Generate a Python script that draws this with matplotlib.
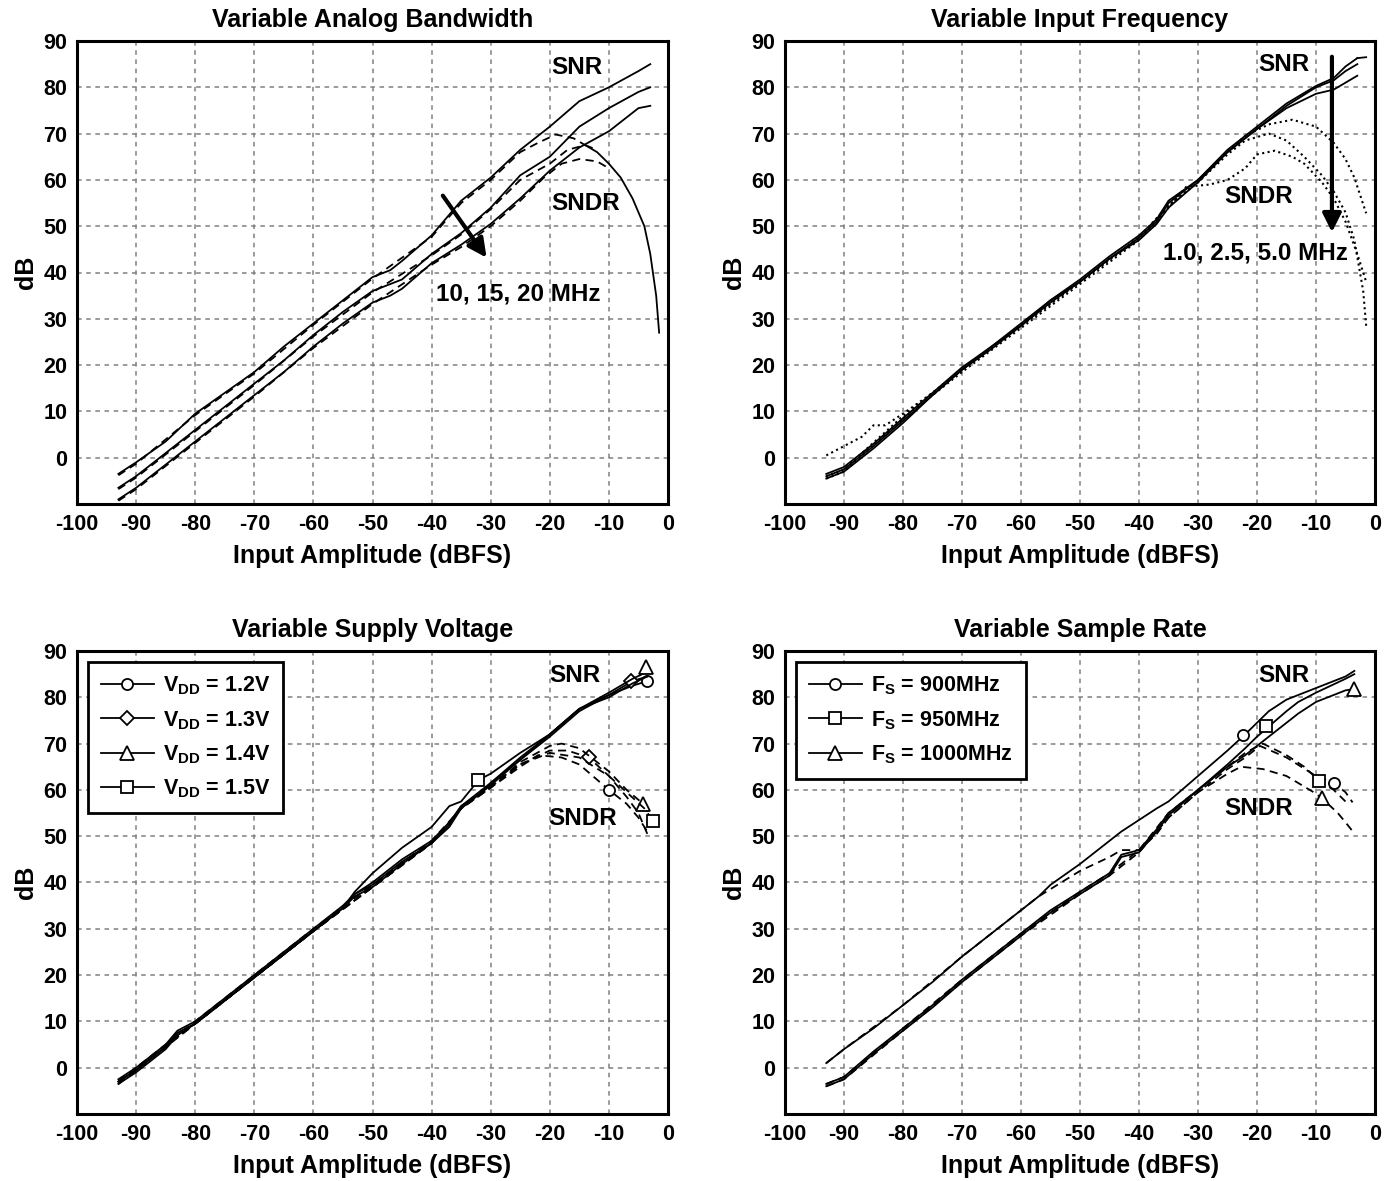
import matplotlib.pyplot as plt
from matplotlib.lines import Line2D

plt.rcParams["font.family"] = ["Liberation Sans", "DejaVu Sans"]
plt.rcParams["font.weight"] = "bold"
plt.rcParams["axes.unicode_minus"] = False
plt.rcParams["mathtext.fontset"] = "custom"
plt.rcParams["mathtext.rm"] = "Liberation Sans:bold"
plt.rcParams["mathtext.bf"] = "Liberation Sans:bold"
plt.rcParams["mathtext.default"] = "rm"

# ---- Variable Analog Bandwidth ----
bw_x = [-93, -90, -85, -80, -75, -70, -65, -60, -55, -50, -47, -45, -40, -35, -30, -25, -20, -15, -10, -5, -3]
snr_10mhz = [-3.5, -1, 3.5, 9.5, 14, 18.5, 24, 29, 34, 39, 40.5, 42.5, 48, 55.5, 60.5, 66.5, 71.5, 77, 80, 83.5, 85]
snr_15mhz = [-6.5, -4, 1, 6, 11, 16, 21, 26.5, 31.5, 36, 37.5, 38.5, 44, 48.5, 54, 61, 65, 71.5, 75.5, 79, 80]
snr_20mhz = [-9, -6.5, -1.5, 3.5, 8.5, 13.5, 18.5, 24, 29, 33.5, 35, 36.5, 42, 46, 50.5, 56, 62, 67, 70.5, 75.5, 76]
sndr_10mhz_x = [-93, -90, -80, -70, -60, -50, -40, -35, -30, -25, -22, -19, -16, -14]
sndr_10mhz = [-3.8, -1.3, 9.2, 18.2, 28.7, 38.7, 47.7, 55, 60, 66, 68, 69.8, 69, 67.5]
sndr_15mhz_x = [-93, -90, -80, -70, -60, -50, -40, -35, -30, -25, -20, -17, -14, -12]
sndr_15mhz = [-6.8, -4.3, 5.7, 15.7, 26.2, 35.7, 43.7, 48.2, 53.7, 60, 63.5, 66.5, 67.5, 66.5]
sndr_20mhz_x = [-93, -90, -80, -70, -60, -50, -40, -35, -30, -25, -21, -18, -15, -12, -10]
sndr_20mhz = [-9.3, -6.8, 3.2, 13.2, 23.7, 33.2, 41.7, 45.5, 50, 55.5, 60.5, 63.5, 64.5, 64, 62.5]
sndr_drop_x = [-14, -12, -10, -8, -6, -4, -3, -2, -1.5]
sndr_drop = [67.5, 66, 63.5, 60.5, 56, 50, 44, 35, 27]

# ---- Variable Input Frequency ----
if_x = [-93, -90, -87, -85, -80, -75, -70, -65, -60, -55, -50, -45, -40, -37, -35, -30, -25, -20, -15, -10, -7, -5, -3]
snr_1mhz = [-3.5, -2, 1, 3, 8.5, 14, 19.5, 24, 29, 34, 38.5, 43.5, 48, 51.5, 55.5, 60, 66.5, 71.5, 76.5, 80.3, 82, 84.5, 86.3]
snr_2mhz = [-4, -2.5, 0.5, 2.5, 8, 13.5, 19, 24, 28.5, 34, 38, 43, 47.5, 51, 55, 60, 66, 71, 76, 80, 81.5, 83.5, 85]
snr_5mhz = [-4.5, -3, 0, 2, 7.5, 13.5, 19, 23.5, 28.5, 33.5, 38, 43, 47, 50.5, 54, 59.5, 66, 71, 75.5, 78.6, 79.5, 81, 82.5]
snr_1mhz_tail_x = [-3, -1.5]
snr_1mhz_tail = [86.3, 86.5]
sndr_1mhz_x = [-93, -90, -87, -85, -83, -80, -75, -70, -60, -50, -40, -35, -30, -25, -22, -18, -14, -10, -7, -5, -3.5, -1.5]
sndr_1mhz = [0.5, 2.5, 4.5, 7, 7, 9.5, 14, 19, 28.5, 38, 47.5, 54.5, 59.5, 66, 69.5, 72, 73, 71.5, 68, 64.5, 60.5, 52.8]
sndr_2mhz_x = [-93, -90, -80, -70, -60, -50, -40, -35, -30, -25, -22, -18, -15, -12, -9, -7, -5, -3.5, -2, -1.5]
sndr_2mhz = [-4, -2.5, 9, 19, 28.5, 38, 47.5, 54.5, 59.5, 65.5, 68.5, 70, 68.5, 65, 61, 57.5, 53, 47, 36, 28.5]
sndr_5mhz_x = [-93, -90, -80, -70, -60, -50, -40, -35, -32, -28, -25, -22, -20, -17, -14, -12, -9, -7, -5, -3, -1.5]
sndr_5mhz = [-4.5, -3, 8.5, 18.5, 28, 37.5, 47, 54, 58.5, 59, 60, 62.5, 65.5, 66.3, 65, 63.5, 59.5, 56, 51, 44, 38]

# ---- Variable Supply Voltage ----
vdd_labels = ["V$_{DD}$ = 1.2V", "V$_{DD}$ = 1.3V", "V$_{DD}$ = 1.4V", "V$_{DD}$ = 1.5V"]
vdd_markers = ["o", "D", "^", "s"]
vdd_x = [-93, -90, -85, -83, -80, -75, -70, -65, -60, -55, -53, -50, -45, -40, -37, -35, -32, -30, -25, -20, -15, -10, -6, -3.5]
snr_vdd = [
    [-3, -0.5, 4.5, 7.5, 9.5, 14.5, 19.5, 24.5, 29.5, 34.5, 37, 39, 44, 48.5, 52.5, 56.5, 59, 61.5, 66.5, 72, 77.5, 80.5, 82.5, 83.5],
    [-3.5, -1, 4, 7, 9.5, 14.5, 19.5, 24.5, 29.5, 34.5, 37.5, 39.5, 44.5, 48.5, 52, 56, 59, 61, 66.5, 71.5, 77, 80.5, 83.5, 84.5],
    [-2.5, 0, 5, 8, 10, 15, 20, 25, 30, 35, 37.5, 40, 45, 49, 53, 56.5, 59.5, 61.5, 67, 72, 77.5, 81, 84, 85.5],
    [-3, -0.5, 4.5, 7.5, 9.5, 14.5, 19.5, 24.5, 29.5, 34.5, 38, 42, 47.5, 52, 56.5, 57.5, 62.2, 63.5, 68, 72, 77.5, 80, 83, 84.5],
]
snr_vdd_mark_x = [-3.6, -6.2, -3.8, -32.1]
snr_vdd_mark_y = [83.5, 83.5, 86.5, 62.2]
sndr_vdd_x = [
    [-93, -80, -70, -60, -50, -40, -35, -30, -25, -22, -18, -15, -10, -7, -5, -3.5],
    [-93, -80, -70, -60, -50, -40, -35, -30, -25, -20, -17, -13.4, -10, -7, -5, -3.5],
    [-93, -80, -70, -60, -50, -40, -35, -30, -25, -20, -18, -15, -10, -7, -4.2, -3],
    [-93, -80, -70, -60, -50, -40, -35, -30, -25, -20, -15, -10, -7, -4, -2.5],
]
sndr_vdd = [
    [-3.5, 9.5, 19.5, 29.5, 39, 48.5, 56, 60.5, 65, 67.5, 67, 65.5, 60, 57, 54, 51],
    [-3.5, 9.5, 19.5, 29.5, 39, 48.5, 56, 60.5, 65.5, 68.5, 68.5, 67, 63, 58.5, 55, 50.5],
    [-3, 10, 20, 30, 39.5, 49, 56, 60.5, 66, 69.5, 70, 69, 64, 60, 57, 54],
    [-3, 9.5, 19.5, 29.5, 39, 48.5, 56, 61, 65.5, 68, 67, 63, 59.5, 56, 53.3],
]
sndr_vdd_mark_x = [-10, -13.4, -4.2, -2.5]
sndr_vdd_mark_y = [60, 67, 57, 53.3]

# ---- Variable Sample Rate ----
fs_labels = ["F$_{S}$ = 900MHz", "F$_{S}$ = 950MHz", "F$_{S}$ = 1000MHz"]
fs_markers = ["o", "s", "^"]
fs_x = [-93, -90, -85, -80, -75, -70, -65, -60, -57, -55, -50, -45, -43, -40, -37, -35, -30, -25, -22, -20, -18, -15, -13, -10, -5, -3.5]
snr_fs = [
    [1, 4, 8.5, 13.5, 18.5, 24, 29, 34, 37, 39.5, 44, 49, 51, 53.5, 56, 57.5, 63, 68.5, 72, 74.5, 77, 79.5, 80.5, 82, 84.5, 85.7],
    [-3.5, -2, 3.5, 8.5, 13.5, 19, 24, 29, 32, 34, 38, 42, 46, 47, 51.5, 55, 60, 65.5, 69, 71.5, 73.7, 77, 79, 81, 84, 85],
    [-4, -2.5, 3, 8, 13, 18.5, 23.5, 28.5, 31.5, 33.5, 37.5, 41.5, 45.5, 46.5, 51, 54.5, 60, 65, 67.5, 69.5, 71.5, 74.5, 76.5, 79, 81.5, 81.8],
]
snr_fs_mark_x = [-22.3, -18.5, -3.6]
snr_fs_mark_y = [71.9, 73.7, 81.8]
sndr_fs_x = [
    [-93, -90, -80, -70, -60, -57, -50, -45, -43, -40, -37, -35, -30, -25, -22, -19.5, -15, -10, -7, -5, -3.8],
    [-93, -90, -80, -70, -60, -50, -45, -40, -35, -30, -25, -22, -19, -15, -12, -9.5, -7, -5],
    [-93, -90, -80, -70, -60, -50, -45, -40, -35, -30, -25, -22.7, -19, -15, -10.4, -9, -6.3, -5, -3.5],
]
sndr_fs = [
    [1, 4, 13.5, 24, 34, 37, 42.5, 45.5, 47, 47, 50.5, 54, 59.5, 64.5, 67, 69.5, 67, 63, 61.5, 59.5, 57.3],
    [-3.5, -2, 8.5, 19, 29, 38, 42, 47, 55, 60, 65, 68, 70, 67.5, 65, 62, 60, 57.5],
    [-4, -2.5, 8, 18.5, 28.5, 37.5, 41.5, 46.5, 54, 59.5, 63.5, 65, 64.5, 63, 59.5, 58.2, 55, 53, 50.6],
]
sndr_fs_mark_x = [-7, -9.5, -9]
sndr_fs_mark_y = [61.5, 62, 58.2]

x_ticks = list(range(-100, 1, 10))
y_ticks = list(range(0, 91, 10))

fig = plt.figure(figsize=(13.96, 11.81), dpi=100)
W, H = 1396, 1181


def make_axes(left, top, right, bottom, title):
    ax = fig.add_axes([left / W, 1 - bottom / H, (right - left) / W, (bottom - top) / H])
    ax.set_xlim(-100, 0)
    ax.set_ylim(-10, 90)
    ax.set_xticks(x_ticks)
    ax.set_yticks(y_ticks)
    ax.grid(True, linestyle=(0, (3, 3)), linewidth=1.1, color="0.5")
    ax.set_axisbelow(True)
    for s in ax.spines.values():
        s.set_linewidth(2.2)
    ax.tick_params(length=0, labelsize=15.5, pad=7)
    for lab in ax.get_xticklabels() + ax.get_yticklabels():
        lab.set_fontweight("bold")
    ax.set_title(title, fontsize=18, fontweight="bold", pad=10)
    ax.set_xlabel("Input Amplitude (dBFS)", fontsize=18, fontweight="bold", labelpad=7)
    ax.set_ylabel("dB", fontsize=18, fontweight="bold", labelpad=4)
    return ax


lw = 1.3
dash = (0, (4.5, 3))
txt = dict(fontsize=17.5, fontweight="bold", ha="center", va="center")
mk = dict(linestyle="none", markerfacecolor="white", markeredgecolor="black", markeredgewidth=1.3)
msize = {"o": 8, "D": 7, "^": 10, "s": 8.5}

# top-left
ax = make_axes(77, 41, 668, 504, "Variable Analog Bandwidth")
for y in [snr_10mhz, snr_15mhz, snr_20mhz]:
    ax.plot(bw_x, y, color="black", lw=lw)
for xs, ys in [(sndr_10mhz_x, sndr_10mhz), (sndr_15mhz_x, sndr_15mhz), (sndr_20mhz_x, sndr_20mhz)]:
    ax.plot(xs, ys, color="black", lw=lw, linestyle=dash)
ax.plot(sndr_drop_x, sndr_drop, color="black", lw=lw)
ax.text(-15.4, 84.3, "SNR", **txt)
ax.text(-14, 55, "SNDR", **txt)
ax.text(-25.4, 35.4, "10, 15, 20 MHz", **txt)
ax.annotate("", xy=(-30.7, 43.2), xytext=(-38.1, 56.6),
            arrowprops=dict(arrowstyle="-|>", lw=3, color="black", mutation_scale=28, shrinkA=0, shrinkB=0))

# top-right
ax = make_axes(785, 41, 1375, 504, "Variable Input Frequency")
for y in [snr_1mhz, snr_2mhz, snr_5mhz]:
    ax.plot(if_x, y, color="black", lw=lw)
ax.plot(snr_1mhz_tail_x, snr_1mhz_tail, color="black", lw=lw)
for xs, ys in [(sndr_1mhz_x, sndr_1mhz), (sndr_2mhz_x, sndr_2mhz), (sndr_5mhz_x, sndr_5mhz)]:
    ax.plot(xs, ys, color="black", lw=1.5, linestyle=":")
ax.text(-15.4, 85, "SNR", **txt)
ax.text(-19.7, 56.5, "SNDR", **txt)
ax.text(-20.2, 44.2, "1.0, 2.5, 5.0 MHz", **txt)
ax.annotate("", xy=(-7.3, 48.7), xytext=(-7.3, 86.6),
            arrowprops=dict(arrowstyle="-|>", lw=3, color="black", mutation_scale=28, shrinkA=0, shrinkB=0))

# bottom-left
ax = make_axes(77, 651, 668, 1114, "Variable Supply Voltage")
handles = []
for i in range(4):
    ax.plot(vdd_x, snr_vdd[i], color="black", lw=lw)
    ax.plot(sndr_vdd_x[i], sndr_vdd[i], color="black", lw=lw, linestyle=dash)
    m = vdd_markers[i]
    ax.plot([snr_vdd_mark_x[i], sndr_vdd_mark_x[i]], [snr_vdd_mark_y[i], sndr_vdd_mark_y[i]],
            marker=m, markersize=msize[m], **mk)
    handles.append(Line2D([], [], color="black", lw=lw, marker=m, markersize=msize[m],
                          markerfacecolor="white", markeredgecolor="black", markeredgewidth=1.3))
ax.text(-15.7, 84.8, "SNR", **txt)
ax.text(-14.4, 53.9, "SNDR", **txt)
leg = ax.legend(handles, vdd_labels, loc="upper left", bbox_to_anchor=(0.018, 0.977), borderaxespad=0,
                fancybox=False, framealpha=1, edgecolor="black", fontsize=15.5, handlelength=2.5,
                labelspacing=0.55, handletextpad=0.4, borderpad=0.6)
leg.get_frame().set_linewidth(2)

# bottom-right
ax = make_axes(785, 651, 1375, 1114, "Variable Sample Rate")
handles = []
for i in range(3):
    ax.plot(fs_x, snr_fs[i], color="black", lw=lw)
    ax.plot(sndr_fs_x[i], sndr_fs[i], color="black", lw=lw, linestyle=dash)
    m = fs_markers[i]
    ax.plot([snr_fs_mark_x[i], sndr_fs_mark_x[i]], [snr_fs_mark_y[i], sndr_fs_mark_y[i]],
            marker=m, markersize=msize[m], **mk)
    handles.append(Line2D([], [], color="black", lw=lw, marker=m, markersize=msize[m],
                          markerfacecolor="white", markeredgecolor="black", markeredgewidth=1.3))
ax.text(-15.4, 84.8, "SNR", **txt)
ax.text(-19.7, 56, "SNDR", **txt)
leg = ax.legend(handles, fs_labels, loc="upper left", bbox_to_anchor=(0.018, 0.977), borderaxespad=0,
                fancybox=False, framealpha=1, edgecolor="black", fontsize=15.5, handlelength=2.5,
                labelspacing=0.55, handletextpad=0.4, borderpad=0.6)
leg.get_frame().set_linewidth(2)

fig.savefig("out.png", dpi=100)
